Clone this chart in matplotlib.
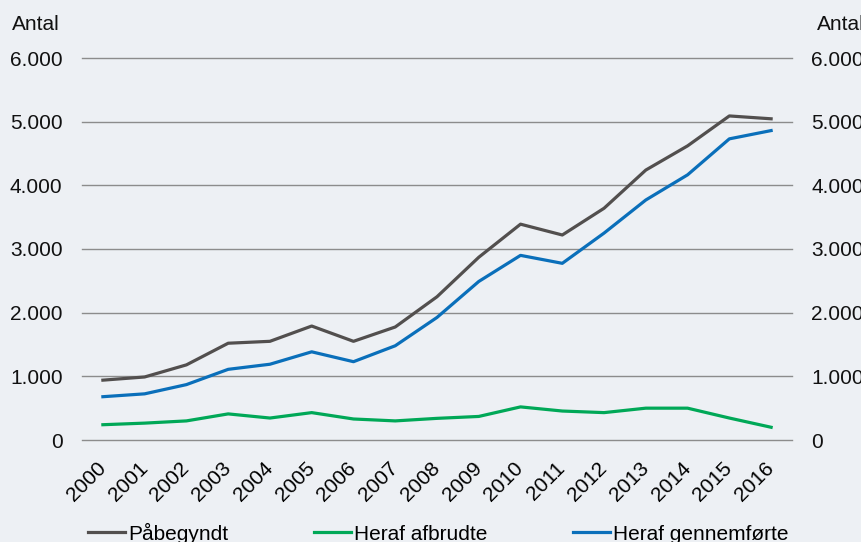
import numpy as np
import matplotlib.pyplot as plt
from matplotlib.ticker import FuncFormatter

years = [str(y) for y in range(2000, 2017)]
paabegyndt = [940, 990, 1180, 1520, 1550, 1790, 1550, 1775, 2250, 2870, 3390, 3220,
              3640, 4240, 4620, 5090, 5045]
afbrudte = [240, 265, 300, 410, 345, 430, 330, 300, 340, 370, 520, 455,
            430, 500, 500, 345, 200]
gennemfoerte = [680, 725, 870, 1110, 1190, 1385, 1230, 1480, 1925, 2490, 2900, 2775,
                3250, 3770, 4165, 4730, 4860]
yticks = [0, 1000, 2000, 3000, 4000, 5000, 6000]

plt.rcParams['font.family'] = ['Liberation Sans', 'DejaVu Sans']
plt.rcParams['font.size'] = 15

bg = '#edf0f4'
fig = plt.figure(figsize=(8.61, 5.42), dpi=100, facecolor=bg)
ax = fig.add_axes([82 / 861, 102 / 542, 710 / 861, 382 / 542])
ax.set_facecolor(bg)

x = np.arange(len(years))
ax.plot(x, paabegyndt, color='#524f4e', lw=2.3, label='Påbegyndt')
ax.plot(x, afbrudte, color='#00a857', lw=2.3, label='Heraf afbrudte')
ax.plot(x, gennemfoerte, color='#0a6fba', lw=2.3, label='Heraf gennemførte')

fmt = FuncFormatter(lambda v, p: f'{int(v):,}'.replace(',', '.'))
ax.set_xlim(-0.5, len(years) - 0.5)
ax.set_ylim(0, 6000)
ax.set_yticks(yticks)
ax.yaxis.set_major_formatter(fmt)
ax.grid(axis='y', color='#8c8c8c', lw=1)
for gl in ax.get_ygridlines():
    gl.set_clip_on(False)
ax.set_axisbelow(True)
ax.set_xticks(x)
ax.set_xticklabels(years, rotation=45, ha='right', va='center', rotation_mode='anchor')
ax.tick_params(axis='x', length=0, pad=18)
ax.tick_params(axis='y', length=0, pad=14, labelcolor='#111111')
for s in ax.spines.values():
    s.set_visible(False)

ax2 = ax.twinx()
ax2.set_ylim(0, 6000)
ax2.set_yticks(yticks)
ax2.yaxis.set_major_formatter(fmt)
ax2.tick_params(axis='y', length=0, pad=14, labelcolor='#111111')
for s in ax2.spines.values():
    s.set_visible(False)

fig.text(12 / 861, 1 - 25 / 542, 'Antal', ha='left', va='center', color='#111111')
fig.text(817 / 861, 1 - 25 / 542, 'Antal', ha='left', va='center', color='#111111')

fig.legend(loc='center', bbox_to_anchor=(0.5093, 0.0166), ncol=3, frameon=False,
           handlelength=1.78, handletextpad=0.15, columnspacing=4.1)

fig.savefig('out.png', dpi=100, facecolor=bg)
